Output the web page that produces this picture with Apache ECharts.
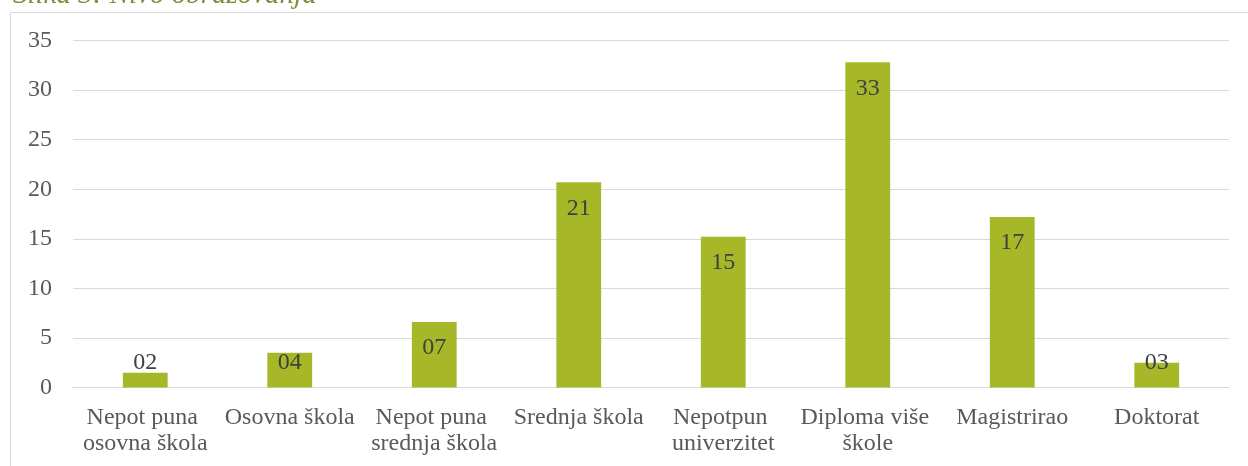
<!DOCTYPE html>
<html>
<head>
<meta charset="utf-8">
<script src="https://cdn.jsdelivr.net/npm/echarts@6/dist/echarts.min.js"></script>
<style>
html,body{margin:0;padding:0;background:#fff;}
#c{width:1248px;height:466px;}
</style>
</head>
<body>
<div id="c"></div>
<script>
const titleText = 'Slika 3: Nivo obrazovanja';
const categories = ['Nepot puna osovna škola', 'Osovna škola', 'Nepot puna srednja škola', 'Srednja škola', 'Nepotpun univerzitet', 'Diploma više škole', 'Magistrirao', 'Doktorat'];
const values = [1.5, 3.5, 6.6, 20.7, 15.2, 32.8, 17.2, 2.5];
const yTicks = [0, 5, 10, 15, 20, 25, 30, 35];

const FONT = '"Liberation Serif", "Times New Roman", serif';
const chart = echarts.init(document.getElementById('c'), null, {renderer: 'canvas'});
chart.setOption({
  animation: false,
  backgroundColor: '#ffffff',
  title: {
    text: titleText,
    left: 8,
    top: -24,
    textStyle: {fontFamily: FONT, fontStyle: 'italic', fontWeight: 'normal', fontSize: 29, color: '#76923C'}
  },
  graphic: [{
    type: 'rect',
    shape: {x: 10.5, y: 12.5, width: 1400, height: 600},
    style: {fill: 'none', stroke: '#d9d9d9', lineWidth: 1},
    silent: true, z: -1
  }],
  grid: {left: 73, right: 19, top: 40.5, bottom: 78.5, containLabel: false},
  xAxis: {
    type: 'category',
    data: categories,
    axisTick: {show: false},
    axisLine: {show: true, lineStyle: {color: '#d9d9d9', width: 1}},
    axisLabel: {
      interval: 0, margin: 17, width: 160, overflow: 'break',
      fontFamily: FONT, fontSize: 24, color: '#595959', lineHeight: 26
    }
  },
  yAxis: {
    type: 'value',
    min: yTicks[0], max: yTicks[yTicks.length - 1], interval: 5,
    axisLine: {show: false},
    axisTick: {show: false},
    splitLine: {lineStyle: {color: '#d9d9d9', width: 1}},
    axisLabel: {margin: 21, fontFamily: FONT, fontSize: 24, color: '#595959'}
  },
  series: [{
    type: 'bar',
    data: values,
    barWidth: '31%',
    itemStyle: {color: '#A6B727'},
    label: {
      show: true,
      position: 'insideTop',
      fontFamily: FONT, fontSize: 24, color: '#404040',
      formatter: p => String(Math.round(p.value)).padStart(2, '0')
    },
    labelLayout: function (params) {
      const r = params.rect;
      const cy = Math.min(r.y + 26, r.y + r.height - 25);
      return {x: r.x + r.width / 2, y: cy, align: 'center', verticalAlign: 'middle'};
    }
  }]
});
</script>
</body>
</html>
